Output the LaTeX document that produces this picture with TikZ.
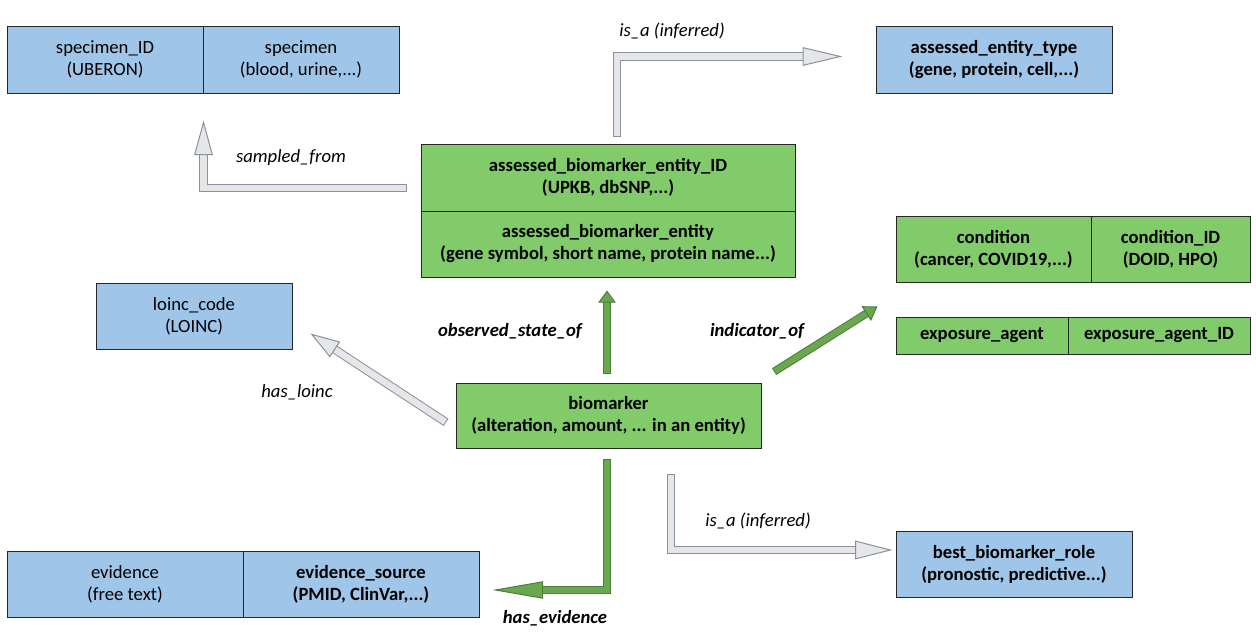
\documentclass[tikz,border=0pt]{standalone}
\usepackage{fontspec}
\setmainfont{Carlito}
\usetikzlibrary{arrows.meta,calc}
\definecolor{bluebox}{HTML}{9FC5E8}
\definecolor{greenbox}{HTML}{82CB6A}
\definecolor{greenarrow}{HTML}{6AA84F}
\definecolor{greenedge}{HTML}{4E7D3A}
\definecolor{grayarrow}{HTML}{E6E6E6}
\definecolor{grayedge}{HTML}{8792A0}
\tikzset{
  box/.style={draw=black!85, line width=0.75pt, rectangle, inner sep=0pt, align=center,
    font=\fontsize{14pt}{16.5pt}\selectfont, minimum height=#1*0.75pt},
  box/.default=66,
  wd/.style={minimum width=#1*0.75pt},
  bluecell/.style={box=#1, fill=bluebox},
  bluecell/.default=66,
  greencell/.style={box=#1, fill=greenbox, font=\fontsize{14pt}{16.5pt}\selectfont\bfseries},
  greencell/.default=66,
  boldtext/.style={font=\fontsize{14pt}{16.5pt}\selectfont\bfseries},
  rel/.style={font=\fontsize{14pt}{16pt}\selectfont\itshape},
  boldrel/.style={font=\fontsize{14pt}{16pt}\selectfont\bfseries\itshape},
  isarrow/.style={draw=grayedge, double=grayarrow, double distance=5pt, line width=0.75pt,
    line cap=rect, line join=miter,
    -{Triangle[length=#1, width=14pt, fill=grayarrow, line width=0.75pt]}},
  hasarrow/.style={draw=greenedge, double=greenarrow, double distance=4.5pt, line width=0.75pt,
    line cap=rect, line join=miter,
    -{Triangle[length=#1, width=13pt, fill=greenarrow, line width=0.75pt]}},
}
\begin{document}
\begin{tikzpicture}[x=0.75pt, y=-0.75pt]
  \useasboundingbox (0,0) rectangle (1256,643);
  % blue classes
  \node[bluecell=67, wd=196] (specID) at (105,59.5) {specimen\_ID\\(UBERON)};
  \node[bluecell=67, wd=196] (specimen) at (301,59.5) {specimen\\(blood, urine,...)};
  \node[bluecell=67, wd=236, boldtext] (enttype) at (994,59.5) {assessed\_entity\_type\\(gene, protein, cell,...)};
  \node[bluecell, wd=196] (loinc) at (194,316) {loinc\_code\\(LOINC)};
  \node[bluecell, wd=236] (evidence) at (125,584) {evidence\\(free text)};
  \node[bluecell, wd=236, boldtext] (evsource) at (361,584) {evidence\_source\\(PMID, ClinVar,...)};
  \node[bluecell, wd=236, boldtext] (role) at (1014,564) {best\_biomarker\_role\\(pronostic, predictive...)};
  % green classes
  \node[greencell=67, wd=374] (entID) at (608,177.5) {assessed\_biomarker\_entity\_ID\\(UPKB, dbSNP,...)};
  \node[greencell, wd=374] (entity) at (608,244) {assessed\_biomarker\_entity\\(gene symbol, short name, protein name...)};
  \node[greencell, wd=195] (condition) at (993.5,249) {condition\\(cancer, COVID19,...)};
  \node[greencell, wd=159] (condID) at (1170.5,249) {condition\_ID\\(DOID, HPO)};
  \node[greencell=37, wd=172] (exposure) at (982,335.5) {exposure\_agent};
  \node[greencell=37, wd=182] (exposureID) at (1159,335.5) {exposure\_agent\_ID};
  \node[greencell=65, wd=305] (biomarker) at (608.5,415.5) {biomarker\\(alteration, amount, ... in an entity)};
  % relation labels
  \node[rel] (lsampled) at (291,158) {sampled\_from};
  \node[rel] (lisatop) at (672,31) {is\_a (inferred)};
  \node[boldrel] (lobserved) at (510,331) {observed\_state\_of};
  \node[boldrel] (lindicator) at (757,331) {indicator\_of};
  \node[rel] (lloinc) at (297,392) {has\_loinc};
  \node[boldrel] (levidence) at (555,618) {has\_evidence};
  \node[rel] (lisabottom) at (758,521) {is\_a (inferred)};
  % connectors
  \begin{scope}
    \draw[isarrow=26pt] ($(entID.west)+(-18,10.5)$) -| ($(specID.south east)+(0,27)$);
    \draw[isarrow=30pt] ($(entID.north)+(9,-11)$) |- ($(enttype.west)+(-33,-3)$);
    \draw[hasarrow=9pt] ($(biomarker.north)+(-1.5,-13)$) -- ($(entity.south)+(-1,13)$);
    \draw[hasarrow=10pt] ($(biomarker.north east)+(16,-13)$) -- ($(exposure.north west)+(-18,-10)$);
    \draw[isarrow=22pt] ($(biomarker.west)+(-13,4.5)$) -- ($(loinc.south east)+(18,-16)$);
    \draw[hasarrow=38pt] ($(biomarker.south)+(-1.5,14)$) |- ($(evsource.east)+(13,6)$);
    \draw[isarrow=28pt] ($(biomarker.south)+(62.5,30)$) |- ($(role.west)+(-3,-14)$);
  \end{scope}
\end{tikzpicture}
\end{document}
